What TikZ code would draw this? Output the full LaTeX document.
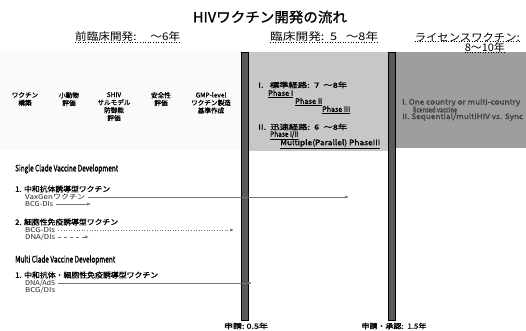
\documentclass[tikz,border=0pt]{standalone}
\usepackage{graphicx}
\usepackage{fontspec}
\newfontfamily\jp[AutoFakeBold=1.2]{Noto Sans CJK JP}
\usetikzlibrary{arrows.meta}
\definecolor{phasegray}{gray}{0.78}
\definecolor{licgray}{gray}{0.62}
\definecolor{bargray}{gray}{0.35}
\definecolor{linegray}{gray}{0.45}
% set text #3 at size #2 and stretch it to #1 pt wide
\newcommand\fitx[3]{\setbox0=\hbox{\fontsize{#2}{#2}\selectfont #3}%
  \pgfmathsetmacro\sx{#1/(\the\wd0)}%
  \scalebox{\sx}[1]{\box0}}
\begin{document}
\begin{tikzpicture}[x=1pt,y=-1pt,
  every node/.style={inner sep=0pt, font=\jp\bfseries},
  title/.style={font=\jp\bfseries},
  head/.style={font=\jp},
  small/.style={font=\jp\bfseries\fontsize{6.6}{7.8}\selectfont, align=center},
  item/.style={font=\jp\bfseries, anchor=west},
  sub/.style={font=\jp, anchor=west, text=black!85},
  ph/.style={font=\jp\bfseries, anchor=west},
  lic/.style={font=\jp\bfseries, anchor=west, text=black!75},
  bar/.style={draw=black, fill=bargray, minimum width=7pt, minimum height=268pt, line width=0.8pt},
  arr/.style={draw=linegray, line width=0.6pt, -{Latex[length=4pt,width=3pt]}},
  hdline/.style={dotted, line width=0.6pt}
]
\useasboundingbox (0,0) rectangle (526,331);
\fill[white] (0,0) rectangle (526,331);
% backgrounds
\fill[gray!4] (0,52) rectangle (241,150);
\fill[phasegray] (248,52) rectangle (388,151);
\fill[licgray] (395,52) rectangle (526,148);

% title
\node[title] (title) at (270,17) {\fitx{154}{14}{HIVワクチン開発の流れ}};

% headers
\node[head, anchor=west] (h1) at (75,37) {\fitx{105}{10.5}{前臨床開発:\hspace{1.2em}～6年}};
\node[head, anchor=west] (h2) at (270,37) {\fitx{108}{10.5}{臨床開発:\ \ 5\ \ \ ～8年}};
\node[head, anchor=east] (h3) at (520,37) {\fitx{105}{10.5}{ライセンスワクチン:}};
\node[head, anchor=east] (h4) at (505,47) {\fitx{40}{10.5}{8～10年}};
\draw[hdline] (h1.south west) -- (h1.south east);
\draw[hdline] (h2.south west) -- (h2.south east);
\draw[hdline] (h3.south west) -- (h3.south east);
\draw[hdline] (h4.south west) -- (h4.south east);

% bars
\node[bar] (bar1) at (244.5,186) {};
\node[bar] (bar2) at (391.5,186) {};

% preclinical steps
\node[small, anchor=north] (p1) at (25,92) {ワクチン\\構築};
\node[small, anchor=north] (p2) at (69,92) {小動物\\評価};
\node[small, anchor=north] (p3) at (114,92) {SHIV\\サルモデル\\防御能\\評価};
\node[small, anchor=north] (p4) at (161,92) {安全性\\評価};
\node[small, anchor=north] (p5) at (211,92) {GMP-level\\ワクチン製造\\基準作成};

% clinical phase box
\node[ph] (c1) at (258,85) {\fitx{89}{7}{I.\ \ \ 標準経路:\ \ 7\ \ ～8年}};
\node[ph] (c2) at (268,94) {\fitx{25}{7.5}{\underline{Phase I}}};
\node[ph] (c3) at (295,102) {\fitx{27}{7.5}{\underline{Phase II}}};
\node[ph] (c4) at (322,110) {\fitx{28}{7.5}{\underline{Phase III}}};
\node[ph] (c5) at (258,127) {\fitx{89}{7}{II.\ \ 迅速経路:\ \ 6\ \ ～8年}};
\node[ph] (c6) at (270,135.5) {\fitx{28}{7.5}{\underline{Phase I/II}}};
\node[ph] (c7) at (280,144) {\fitx{100}{7.5}{\underline{Multiple(Parallel) PhaseIII}}};

% license box
\node[lic] (l1) at (402,102.5) {\fitx{118}{7.5}{I. One country or multi-country}};
\node[lic] (l2) at (413,109.5) {\fitx{44}{7.5}{licensed vaccine}};
\node[lic] (l3) at (402,117) {\fitx{121}{7.5}{II. Sequential/multiHIV vs. Sync}};

% single clade
\node[item] (sc) at (15,169) {\fitx{103}{9}{Single Clade Vaccine Development}};
\node[item] (s1) at (15,189) {\fitx{95}{7.5}{1. 中和抗体誘導型ワクチン}};
\node[sub] (s1a) at (25,197) {\fitx{60}{6.8}{VaxGenワクチン}};
\node[sub] (s1b) at (25,204) {\fitx{28}{6.8}{BCG-DIs}};
\node[item] (s2) at (15,222) {\fitx{103}{7.5}{2. 細胞性免疫誘導型ワクチン}};
\node[sub] (s2a) at (25,230) {\fitx{30}{6.8}{BCG-DIs}};
\node[sub] (s2b) at (25,237) {\fitx{30}{6.8}{DNA/DIs}};

% multi clade
\node[item] (mc) at (15,260) {\fitx{100}{9}{Multi Clade Vaccine Development}};
\node[item] (m1) at (15,275) {\fitx{143}{7.5}{1. 中和抗体・細胞性免疫誘導型ワクチン}};
\node[sub] (m1a) at (25,283) {\fitx{30}{6.8}{DNA/Ad5}};
\node[sub] (m1b) at (25,290) {\fitx{30}{6.8}{BCG/DIs}};

% arrow end points
\coordinate (e1) at (349,197);
\coordinate (e2) at (91,204);
\coordinate (e3) at (234,230);
\coordinate (e4) at (89,237);
\coordinate (e5) at (252,283);

\draw[arr] ([xshift=3pt]s1a.east) -- (e1);
\draw[arr] ([xshift=3pt]s1b.east) -- (e2);
\draw[arr, dotted] ([xshift=3pt]s2a.east) -- (e3);
\draw[arr, dashed] ([xshift=3pt]s2b.east) -- (e4);
\draw[arr] ([xshift=3pt]m1a.east) -- (e5);

% bottom labels
\node[small] (b1) at (246,326) {\fitx{44}{7}{申請:\ 0.5年}};
\node[small] (b2) at (394,326) {\fitx{65}{7}{申請・承認:\ \ 1.5年}};
\end{tikzpicture}
\end{document}
